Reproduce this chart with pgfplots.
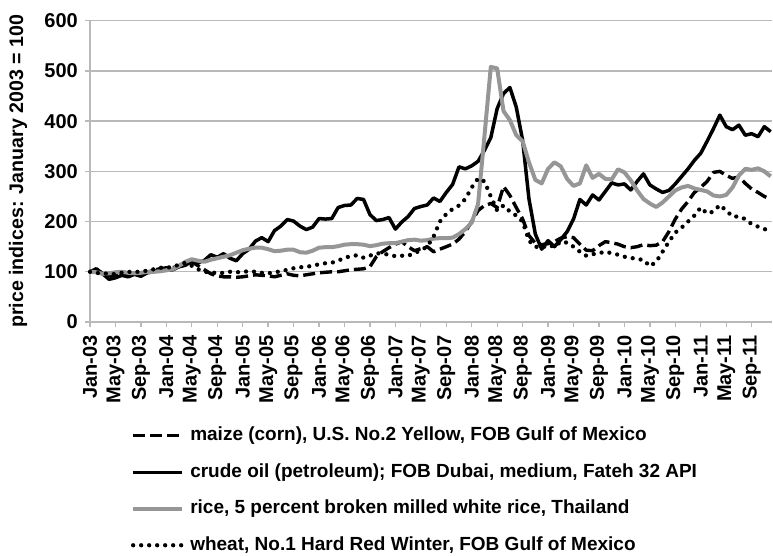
\documentclass[border=0pt]{standalone}
\usepackage{fontspec}
\setmainfont{Liberation Sans}
\usepackage{pgfplots}
\usepackage{pgfplotstable}
\pgfplotsset{compat=1.18}
\definecolor{gridgray}{RGB}{185,185,185}
\definecolor{ricegray}{RGB}{150,150,150}
\newcommand{\chartfont}{\fontsize{19bp}{22bp}\selectfont\bfseries}
\newcommand{\tickfont}{\fontsize{20bp}{23bp}\selectfont\bfseries}
\newcommand{\labelfont}{\fontsize{19.6bp}{23bp}\selectfont\bfseries}

\pgfplotstableread{
m crude maize rice wheat
0 100 100 100 100
1 106 102 99 98
2 96 98 96 96
3 85 93 97 97
4 88 92 99 95
5 93 95 100 98
6 90 95 98 100
7 95 97 97 99
8 91 96 98 101
9 98 99 100 102
10 100 103 100 105
11 106 106 101 108
12 103 108 103 108
13 104 108 105 110
14 110 112 112 114
15 113 118 120 118
16 121 120 125 112
17 118 112 122 105
18 123 104 120 100
19 134 96 124 99
20 129 92 127 97
21 136 90 130 98
22 127 90 133 100
23 122 89 138 99
24 136 90 143 100
25 145 92 146 101
26 161 94 148 100
27 168 93 148 98
28 160 92 145 97
29 182 90 141 99
30 191 93 142 101
31 204 96 144 104
32 201 93 144 107
33 191 92 139 109
34 184 94 138 110
35 189 96 142 112
36 206 98 148 115
37 205 99 149 117
38 206 100 149 118
39 228 100 151 122
40 232 102 154 128
41 233 104 155 131
42 246 105 155 133
43 244 106 154 128
44 214 110 151 132
45 202 130 153 137
46 204 140 156 136
47 208 148 157 134
48 185 155 157 131
49 199 160 160 132
50 210 150 163 132
51 226 142 164 137
52 230 146 162 143
53 233 150 163 150
54 247 140 166 170
55 240 145 167 200
56 258 150 167 215
57 274 155 168 225
58 309 165 175 232
59 305 180 185 245
60 311 200 198 268
61 320 222 235 286
62 342 232 370 280
63 367 236 508 250
64 425 228 505 222
65 455 270 420 232
66 467 252 402 220
67 428 228 372 212
68 362 205 360 200
69 245 172 318 162
70 175 157 283 150
71 145 154 276 148
72 162 156 305 153
73 150 160 318 150
74 164 167 310 160
75 180 170 285 158
76 205 168 271 150
77 244 155 276 140
78 233 143 312 132
79 253 142 287 135
80 243 152 295 137
81 260 160 285 140
82 277 158 284 137
83 273 155 304 134
84 275 150 298 130
85 263 148 282 128
86 280 150 262 125
87 295 154 245 124
88 273 152 236 111
89 265 153 229 120
90 258 160 238 140
91 262 180 250 160
92 275 205 262 178
93 290 225 268 188
94 305 240 271 200
95 322 258 266 212
96 336 268 263 228
97 360 280 260 216
98 385 298 252 220
99 412 300 250 233
100 389 292 253 222
101 383 286 268 210
102 392 289 292 210
103 372 276 305 205
104 375 265 303 195
105 369 258 306 190
106 389 250 300 185
107 379 245 290 182
}\datatable

\begin{document}
\begin{tikzpicture}
\useasboundingbox (0bp,0bp) rectangle (773bp,-556bp);
\begin{axis}[
  at={(90bp,-322bp)}, anchor=south west,
  scale only axis, width=682bp, height=301.3bp,
  xmin=0, xmax=107.2, ymin=0, ymax=600,
  clip=false,
  axis x line*=bottom, axis y line*=left,
  axis line style={gridgray, line width=1.3bp},
  ytick={0,100,...,600},
  ymajorgrids, grid style={gridgray, line width=1.3bp},
  xtick={0,4,...,104},
  xticklabels={Jan-03,May-03,Sep-03,Jan-04,May-04,Sep-04,Jan-05,May-05,Sep-05,Jan-06,May-06,Sep-06,Jan-07,May-07,Sep-07,Jan-08,May-08,Sep-08,Jan-09,May-09,Sep-09,Jan-10,May-10,Sep-10,Jan-11,May-11,Sep-11},
  tick align=outside, major tick length=5bp,
  tick style={gridgray, line width=1.3bp},
  /pgf/number format/assume math mode=true,
  yticklabel style={font=\tickfont, anchor=east, inner sep=0pt},
  yticklabel shift=7bp,
  xticklabel style={font=\tickfont, rotate=90, anchor=east, inner sep=0pt},
  xticklabel shift=8bp,
  ylabel={price indices: January 2003 = 100},
  every axis y label/.style={at={(axis description cs:-0.1056,0.5)}, rotate=90, anchor=center, font=\labelfont, inner sep=0pt},
  legend cell align=left,
  legend image code/.code={\draw[#1] (0bp,0bp) -- (49bp,0bp);},
  legend style={at={(axis description cs:0.0601,-0.3460)}, anchor=north west,
    draw=none, fill=none, inner sep=0pt, outer sep=0pt,
    row sep=17.5bp, column sep=6bp, font=\chartfont,
    nodes={inner sep=0pt, text height=14.5bp, text depth=4.5bp}},
]
\addplot[black, line width=3.4bp, dash pattern=on 12bp off 5bp, line join=round] table[x=m, y=maize] {\datatable};
\addlegendentry{maize (corn), U.S. No.2 Yellow, FOB Gulf of Mexico}
\addplot[black, line width=3.5bp, line join=round] table[x=m, y=crude] {\datatable};
\addlegendentry{crude oil (petroleum); FOB Dubai, medium, Fateh 32 API}
\addplot[ricegray, line width=4bp, line join=round] table[x=m, y=rice] {\datatable};
\addlegendentry{rice, 5 percent broken milled white rice, Thailand}
\addplot[black, line width=4.3bp, line cap=round, dash pattern=on 0bp off 8bp] table[x=m, y=wheat] {\datatable};
\addlegendentry{wheat, No.1 Hard Red Winter, FOB Gulf of Mexico}
\end{axis}
\end{tikzpicture}
\end{document}
